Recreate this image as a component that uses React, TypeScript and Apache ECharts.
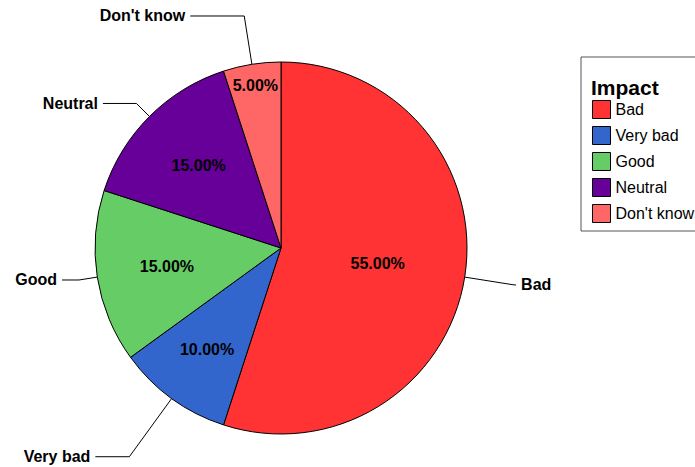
import React, { useEffect, useRef } from 'react';
import * as echarts from 'echarts';

// ---- data ----
const categories: string[] = ['Bad', 'Very bad', 'Good', 'Neutral', "Don't know"];
const percents: number[] = [55, 10, 15, 15, 5];
const colors: string[] = ['#FF3333', '#3366CC', '#66CC66', '#660099', '#FF6666'];
const legendTitle = 'Impact';

// ---- label styling (not data) ----
const outerLineLength: number[] = [50, 72, 18.5, 18.4, 48.9];
const outerLineLength2: number[] = [2, 34, 17, 33.5, 54];
const innerLabelRadius: number[] = [0.51, 0.66, 0.605, 0.61, 0.866];

const CX = 281;
const CY = 248;
const R = 186;
const FONT = 'Arial, "Liberation Sans", Helvetica, sans-serif';

export default function App() {
  const ref = useRef<HTMLDivElement>(null);

  useEffect(() => {
    if (!ref.current) return;
    const chart = echarts.init(ref.current, undefined, { renderer: 'svg' });

    const mainData = categories.map((name, i) => ({
      name,
      value: percents[i],
      itemStyle: { color: colors[i] },
      labelLine: { length: outerLineLength[i], length2: outerLineLength2[i] },
    }));

    const innerSeries = categories.map((_, k) => ({
      type: 'pie',
      silent: true,
      center: [CX, CY],
      radius: [0, 2 * innerLabelRadius[k] * R],
      startAngle: 90,
      clockwise: true,
      avoidLabelOverlap: false,
      emphasis: { disabled: true },
      itemStyle: { color: 'rgba(0,0,0,0)', borderWidth: 0 },
      label: { show: false },
      labelLine: { show: false },
      z: 5,
      data: categories.map((name, i) => ({
        name,
        value: percents[i],
        label: {
          show: i === k,
          position: 'inner',
          formatter: (p: any) => Number(p.value).toFixed(2) + '%',
          color: '#000',
          fontFamily: FONT,
          fontWeight: 'bold',
          fontSize: 16,
        },
      })),
    }));

    chart.setOption({
      animation: false,
      backgroundColor: '#fff',
      title: {
        text: legendTitle,
        left: 591,
        top: 77,
        padding: 0,
        z: 10,
        textStyle: { fontFamily: FONT, fontSize: 21, fontWeight: 'bold', color: '#000' },
      },
      legend: {
        orient: 'vertical',
        left: 581,
        top: 57,
        padding: [43, 12, 8, 11],
        itemWidth: 18,
        itemHeight: 18,
        itemGap: 7,
        icon: 'rect',
        borderColor: '#555',
        borderWidth: 1,
        backgroundColor: '#fff',
        selectedMode: false,
        data: categories,
        itemStyle: { borderColor: '#000', borderWidth: 1 },
        textStyle: { fontFamily: FONT, fontSize: 16, color: '#000' },
      },
      series: [
        {
          type: 'pie',
          center: [CX, CY],
          radius: R,
          startAngle: 90,
          clockwise: true,
          avoidLabelOverlap: false,
          emphasis: { disabled: true },
          itemStyle: { borderColor: '#000', borderWidth: 1 },
          label: {
            show: true,
            position: 'outside',
            formatter: '{b}',
            color: '#000',
            fontFamily: FONT,
            fontWeight: 'bold',
            fontSize: 16,
            distanceToLabelLine: 5,
          },
          labelLine: { show: true, lineStyle: { color: '#000', width: 1 } },
          data: mainData,
        },
        ...innerSeries,
      ],
    } as any);

    return () => chart.dispose();
  }, []);

  return (
    <div
      ref={ref}
      style={{ position: 'fixed', left: 0, top: 0, width: 695, height: 467, background: '#fff' }}
    />
  );
}
